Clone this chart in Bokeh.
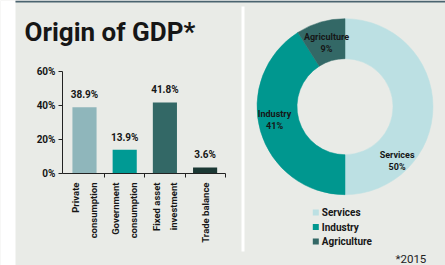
import math
from bokeh.plotting import figure
from bokeh.models import (Range1d, FixedTicker, PrintfTickFormatter, ColumnDataSource,
                          LinearAxis)
from bokeh.core.properties import value
from bokeh.embed import file_html
from bokeh.resources import INLINE

# ---------------- data ----------------
title_text = "Origin of GDP*"
categories = ["Private\nconsumption", "Government\nconsumption", "Fixed asset\ninvestment", "Trade balance"]
gdp_shares = [38.9, 13.9, 41.8, 3.6]
y_ticks = [0, 20, 40, 60]
sectors = ["Services", "Industry", "Agriculture"]
sector_shares = [50, 41, 9]
footnote = "*2015"

# ---------------- styles ----------------
BG = "#e9ebe7"
DARK_LINE = "#4b6470"
TXT = "#161616"
AXIS = "#222222"
FONT = value("Roboto")
bar_colors = ["#8fb6bb", "#009a94", "#336866", "#1b3834"]
sector_colors = ["#bce0e3", "#00978f", "#336866"]

# canvas: one figure, page pixels used as the layout coordinate system (y negated)
X0, X1, Y0, Y1 = 0, 445, 0, 265
p = figure(width=X1 - X0, height=Y1 - Y0,
           x_range=Range1d(X0, X1), y_range=Range1d(-Y1, -Y0),
           output_backend="svg", toolbar_location=None,
           x_axis_location=None, y_axis_location=None,
           min_border_left=0, min_border_right=0, min_border_top=0, min_border_bottom=0)
p.background_fill_color = BG
p.border_fill_color = BG
p.outline_line_color = None
p.grid.visible = False

# frame decorations
p.quad(left=[X0], right=[15], top=[-Y0], bottom=[-Y1], color="white", line_color=None)
p.quad(left=[15], right=[X1], top=[0], bottom=[-2], color=DARK_LINE, line_color=None)
p.quad(left=[241], right=[244], top=[-6], bottom=[-251], color="white", line_color=None)

p.text(x=[24], y=[-31], text=[title_text], text_font=FONT, text_font_style="bold",
       text_font_size="26px", text_baseline="alphabetic", text_align="left", text_color=TXT)

# ---------------- bar chart (own scales) ----------------
CAT0_PX, PX_PER_CAT = 84, 40.2      # screen x of first category, px per category
ZERO_PX, PX_PER_PCT = 173, 1.7      # screen y of 0%, px per percentage point
AXIS_PX = 62                        # screen x of the value axis
p.extra_x_ranges = {"cat": Range1d((X0 - CAT0_PX) / PX_PER_CAT, (X1 - CAT0_PX) / PX_PER_CAT)}
p.extra_y_ranges = {"pct": Range1d((ZERO_PX - Y1) / PX_PER_PCT, (ZERO_PX - Y0) / PX_PER_PCT)}
x_axis_pos = (AXIS_PX - CAT0_PX) / PX_PER_CAT

idx = list(range(len(categories)))
src = ColumnDataSource(dict(x=idx, top=gdp_shares, color=bar_colors,
                            label=[f"{v}%" for v in gdp_shares]))
p.vbar(x="x", top="top", width=0.6, bottom=0, color="color", line_color=None, source=src,
       x_range_name="cat", y_range_name="pct")
p.text(x="x", y="top", text="label", source=src, text_font=FONT, text_font_style="bold",
       text_font_size="10px", text_align="center", text_baseline="bottom",
       y_offset=-7, text_color=TXT, x_range_name="cat", y_range_name="pct")

yax = LinearAxis(x_range_name="cat", y_range_name="pct", fixed_location=x_axis_pos)
yax.ticker = FixedTicker(ticks=y_ticks)
yax.formatter = PrintfTickFormatter(format="%d%%")
yax.bounds = (y_ticks[0], y_ticks[-1])
yax.major_tick_out = 4
yax.major_tick_in = 0
yax.minor_tick_out = 0
yax.minor_tick_in = 0
yax.axis_line_color = AXIS
yax.major_tick_line_color = AXIS
yax.major_label_standoff = 3
yax.major_label_text_font = "Roboto"
yax.major_label_text_font_style = "bold"
yax.major_label_text_font_size = "10px"
yax.major_label_text_color = TXT
p.add_layout(yax, "left")

xax = LinearAxis(x_range_name="cat", y_range_name="pct", fixed_location=0)
xax.ticker = FixedTicker(ticks=idx, minor_ticks=[i + 0.5 for i in idx])
xax.major_label_overrides = {i: c for i, c in zip(idx, categories)}
xax.bounds = (x_axis_pos, len(categories) - 0.5)
xax.major_tick_out = 0
xax.major_tick_in = 0
xax.minor_tick_out = 4
xax.minor_tick_in = 0
xax.axis_line_color = AXIS
xax.minor_tick_line_color = AXIS
xax.major_label_orientation = math.pi / 2
xax.major_label_standoff = 5
xax.major_label_text_font = "Roboto"
xax.major_label_text_font_style = "bold"
xax.major_label_text_font_size = "9.5px"
xax.major_label_text_line_height = 1.6
xax.major_label_text_color = TXT
p.add_layout(xax, "below")

# ---------------- donut ----------------
CX, CY = 344.5, -106.2
R_IN, R_OUT = 48, 88
starts, ends, cum = [], [], 0.0
for v in sector_shares:
    starts.append(math.pi / 2 - 2 * math.pi * cum / 100)
    cum += v
    ends.append(math.pi / 2 - 2 * math.pi * cum / 100)
dsrc = ColumnDataSource(dict(start=starts, end=ends, color=sector_colors, name=sectors,
                             pct=[f"{v}%" for v in sector_shares]))
p.annular_wedge(x=CX, y=CY, inner_radius=R_IN, outer_radius=R_OUT,
                inner_radius_units="screen", outer_radius_units="screen",
                start_angle="start", end_angle="end", direction="clock",
                fill_color="color", line_color="color", line_width=0.5, source=dsrc)

# slice label anchors (layout)
lab_ang = [-46, 190.7, 106.3]
lab_rad = [75, 71.7, 66]
dsrc.data["lx"] = [CX + r * math.cos(math.radians(a)) for a, r in zip(lab_ang, lab_rad)]
dsrc.data["ly"] = [CY + r * math.sin(math.radians(a)) for a, r in zip(lab_ang, lab_rad)]
p.text(x="lx", y="ly", text="name", source=dsrc, text_font=FONT, text_font_style="bold",
       text_font_size="9px", text_align="center", text_baseline="middle", y_offset=-6,
       text_color=TXT)
p.text(x="lx", y="ly", text="pct", source=dsrc, text_font=FONT, text_font_style="bold",
       text_font_size="9px", text_align="center", text_baseline="middle", y_offset=6,
       text_color=TXT)

# legend
LEG_X, LEG_Y, LEG_STEP = 315.3, -212, 14.5
dsrc.data["gy"] = [LEG_Y - i * LEG_STEP for i in range(len(sectors))]
dsrc.data["gx"] = [LEG_X] * len(sectors)
p.rect(x="gx", y="gy", width=6, height=6, width_units="screen", height_units="screen",
       fill_color="color", line_color=None, source=dsrc)
p.text(x="gx", y="gy", text="name", source=dsrc, x_offset=6, text_font=FONT,
       text_font_style="bold", text_font_size="10px", text_align="left",
       text_baseline="middle", text_color=TXT)

p.text(x=[395], y=[-258], text=[footnote], text_font=FONT, text_font_size="11.5px",
       text_align="left", text_baseline="alphabetic", text_color=AXIS)

open("out.html", "w").write(file_html(p, INLINE))
